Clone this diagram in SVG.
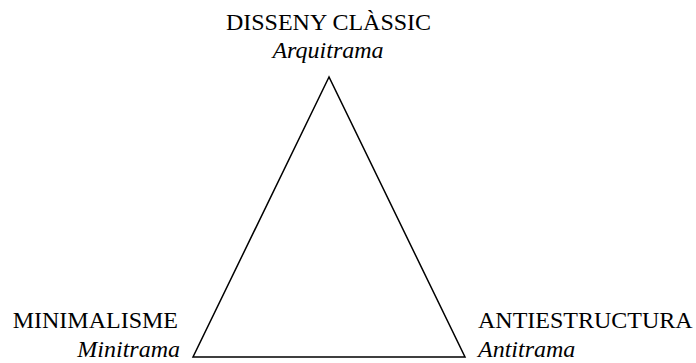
<svg xmlns="http://www.w3.org/2000/svg" width="696" height="363" viewBox="0 0 696 363">
<style>
.t{font-family:"Liberation Serif","Times New Roman",serif;font-size:24px;fill:#000}
.i{font-style:italic}
.edge{fill:none;stroke:#000;stroke-width:1.5}
</style>
<rect width="696" height="363" fill="#fff"/>
<g id="connectors">
<path class="edge" d="M329,77 L193,357 L465,357 Z"/>
</g>
<g id="node-classic">
<text class="t" x="328.5" y="30" text-anchor="middle">DISSENY CLÀSSIC</text>
<text class="t i" x="328" y="58" text-anchor="middle">Arquitrama</text>
</g>
<g id="node-minimal">
<text class="t" x="178" y="328" text-anchor="end">MINIMALISME</text>
<text class="t i" x="180" y="357" text-anchor="end">Minitrama</text>
</g>
<g id="node-anti">
<text class="t" x="478" y="328">ANTIESTRUCTURA</text>
<text class="t i" x="478" y="357">Antitrama</text>
</g>
</svg>
